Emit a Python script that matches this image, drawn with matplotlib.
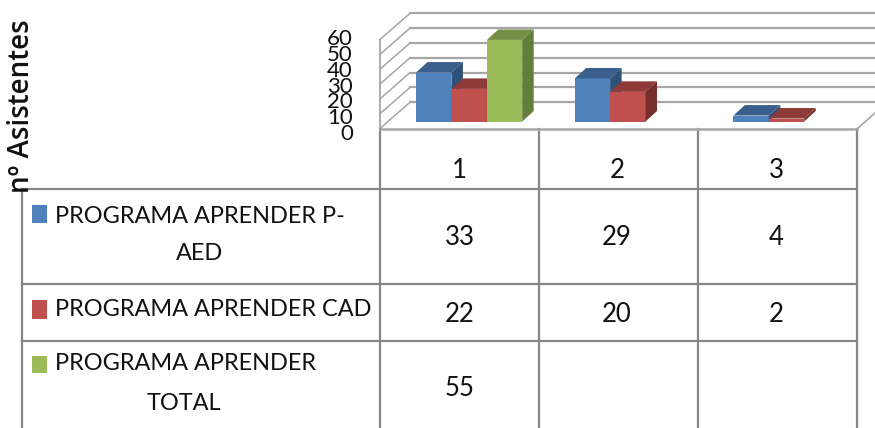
import numpy as np
import matplotlib.pyplot as plt

categories = ["1", "2", "3"]
aed = [33, 29, 4]
cad = [22, 20, 2]
total = [55, None, None]
y_ticks = [0, 10, 20, 30, 40, 50, 60]

names = ["PROGRAMA APRENDER P-\nAED", "PROGRAMA APRENDER CAD", "PROGRAMA APRENDER\nTOTAL"]
front = ["#4F81BD", "#C0504D", "#9BBB59"]
top = ["#3A5F8C", "#8E3A38", "#759045"]
side = ["#2F5078", "#772F2D", "#647D3A"]
series = [aed, cad, total]

narrow = "Lato"

W, H = 875, 428
fig = plt.figure(figsize=(W/100, H/100), dpi=100)

# eje en pixeles para la tabla y las paredes
pix = fig.add_axes([0, 0, 1, 1])
pix.set_xlim(0, W)
pix.set_ylim(H, 0)
pix.axis("off")

# eje con los valores reales para las barras
slot = 158.7
bar_w = 35.4
center0 = 469.1
unit = 1.483
base = 121.5
ax = fig.add_axes([0, 0, 1, 1])
ax.set_xlim((0-center0)/slot, (W-center0)/slot)
ax.set_ylim(-(H-base)/unit, base/unit)
ax.axis("off")
ax.patch.set_alpha(0)

dx = 11.5/slot
dy = 10.5/unit
w = bar_w/slot

# paredes
grid_c = "#A6A6A6"
for v in y_ticks:
    yf = 128.5 - unit*v
    yb = 102.3 - unit*v
    pix.plot([380, 410], [yf, yb], color=grid_c, lw=1.1)
    pix.plot([410, W], [yb, yb], color=grid_c, lw=1.6)
pix.plot([380, 380], [128.5-unit*60, 129], color=grid_c, lw=1.3)
pix.plot([857, 875], [129, 113], color=grid_c, lw=1.2)

# barras
z = 3
for c in range(len(categories)):
    for s in range(3):
        v = series[s][c]
        if v is None:
            continue
        x0 = c + (s-1.5)*w
        x1 = x0 + w
        ax.bar(x0, v, width=w, align="edge", color=front[s], zorder=z)
        ax.fill([x0, x1, x1+dx, x0+dx], [v, v, v+dy, v+dy], color=top[s], lw=0, zorder=z)
        ax.fill([x1, x1+dx, x1+dx, x1], [0, dy, v+dy, v], color=side[s], lw=0, zorder=z)
        z += 1

# tabla
line_c = "#868686"
cols = [380, 539, 698, 857]
rows = [189.3, 284.3, 340.7]
for x in cols:
    pix.plot([x, x], [129, H], color=line_c, lw=1.6)
pix.plot([21.5, 21.5], [189.3, H], color=line_c, lw=1.6)
pix.plot([380, 857], [129, 129], color=grid_c, lw=1.8)
for y in rows:
    pix.plot([21.5, 857], [y, y], color=line_c, lw=1.6)

fs = 18.5
fs_label = 16.9
col_x = [459.5, 617, 776]
for i, c in enumerate(categories):
    pix.text(col_x[i], 171, c, ha="center", va="center", fontsize=fs, family=narrow, color="#111111")
row_y = [237, 314, 389]
for s in range(3):
    for c in range(3):
        if series[s][c] is not None:
            pix.text(col_x[c], row_y[s], str(series[s][c]), ha="center", va="center",
                     fontsize=fs, family=narrow, color="#111111")

# leyenda dentro de la tabla
swatch_y = [205, 300, 355.7]
swatch_h = [17.5, 19, 17.5]
for s in range(3):
    pix.fill([32, 46.7, 46.7, 32], [swatch_y[s], swatch_y[s], swatch_y[s]+swatch_h[s], swatch_y[s]+swatch_h[s]],
             color=front[s], lw=0)
label_y = [216, 310, 364]
second_y = [254, None, 404]
second_x = [199.5, None, 184]
for s in range(3):
    parts = names[s].split("\n")
    pix.text(55, label_y[s], parts[0], ha="left", va="center", fontsize=fs_label, family=narrow, color="#111111")
    if len(parts) > 1:
        pix.text(second_x[s], second_y[s], parts[1], ha="center", va="center", fontsize=fs_label,
                 family=narrow, color="#111111")

# etiquetas del eje y, encimadas como en el original
for k, v in enumerate(y_ticks):
    pix.text(353, 134-15.8*k, str(v), ha="right", va="center", fontsize=16, family=narrow, color="#111111")

pix.text(22, 106, "nº Asistentes", rotation=90, ha="center", va="center", fontsize=20,
         family="Open Sans", fontweight="semibold", color="#111111")

fig.savefig("out.png", dpi=100)
